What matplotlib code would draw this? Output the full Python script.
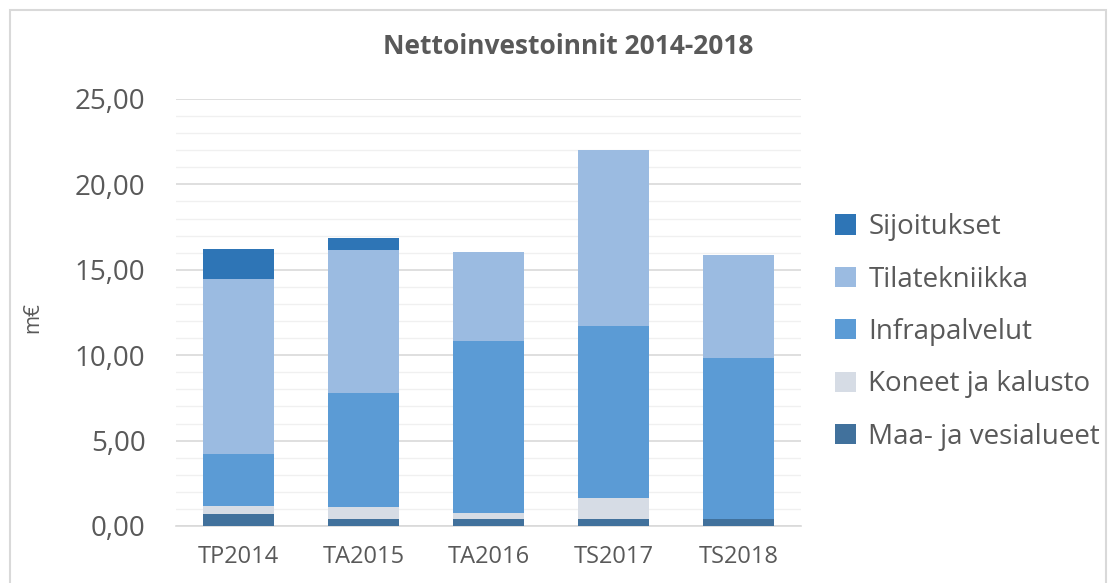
#!/usr/bin/env python3

import matplotlib
matplotlib.use("Agg")
import matplotlib.pyplot as plt
from matplotlib.patches import Rectangle
from matplotlib.ticker import MultipleLocator, FuncFormatter

plt.rcParams["font.family"] = ["Open Sans", "DejaVu Sans"]

categories = ["TP2014", "TA2015", "TA2016", "TS2017", "TS2018"]
maa = [0.73, 0.39, 0.39, 0.39, 0.39]
koneet = [0.44, 0.72, 0.39, 1.25, 0.0]
infra = [3.04, 6.66, 10.03, 10.07, 9.43]
tila = [10.27, 8.41, 5.25, 10.29, 6.03]
sijoitukset = [1.76, 0.66, 0.0, 0.0, 0.0]

series = [
    ("Maa- ja vesialueet", maa, "#41719C"),
    ("Koneet ja kalusto", koneet, "#D6DCE5"),
    ("Infrapalvelut", infra, "#5B9BD5"),
    ("Tilatekniikka", tila, "#9BBBE1"),
    ("Sijoitukset", sijoitukset, "#2E75B6"),
]

text_color = "#595959"

fig = plt.figure(figsize=(11.1, 5.83), dpi=100)
ax = fig.add_axes([176 / 1110, 1 - 526 / 583, 625 / 1110, 427 / 583])

# chart border
fig.patches.append(Rectangle((10 / 1110, -0.05), 1096 / 1110, 1 - 10 / 583 + 0.05,
                             transform=fig.transFigure, fill=False,
                             edgecolor="#D9D9D9", linewidth=1.5))

x = range(len(categories))
bottom = [0.0] * len(categories)
handles = []
for name, vals, color in series:
    bars = ax.bar(x, vals, 0.57, bottom=bottom, color=color, linewidth=0, label=name, zorder=3)
    handles.append(bars)
    bottom = [b + v for b, v in zip(bottom, vals)]

ax.set_xlim(-0.5, len(categories) - 0.5)
ax.set_ylim(0, 25)
ax.yaxis.set_major_locator(MultipleLocator(5))
ax.yaxis.set_minor_locator(MultipleLocator(1))
ax.yaxis.set_major_formatter(FuncFormatter(lambda v, p: f"{v:.2f}".replace(".", ",")))
ax.grid(axis="y", which="major", color="#D9D9D9", linewidth=1.2, zorder=0)
ax.grid(axis="y", which="minor", color="#F0F0F0", linewidth=1.0, zorder=0)

for side in ["left", "right", "top"]:
    ax.spines[side].set_visible(False)
ax.spines["bottom"].set_color("#D9D9D9")
ax.spines["bottom"].set_linewidth(1.2)

ax.set_xticks(list(x))
ax.set_xticklabels(categories)
ax.tick_params(axis="x", length=0, pad=14, labelsize=17, labelcolor=text_color)
ax.tick_params(axis="y", which="both", length=0, pad=22, labelsize=20, labelcolor=text_color)

fig.text(33 / 1110, 1 - 318 / 583, "m€", rotation=90, ha="center", va="center",
         fontsize=15, color=text_color)
fig.text(568 / 1110, 1 - 47 / 583, "Nettoinvestoinnit 2014-2018", ha="center", va="center",
         fontsize=19, fontweight="bold", color=text_color)

leg = fig.legend(handles[::-1], [s[0] for s in series][::-1], loc="center left",
                 bbox_to_anchor=(810 / 1110, 1 - 332 / 583), frameon=False,
                 fontsize=20, labelcolor=text_color, handlelength=0.75,
                 handleheight=0.75, handletextpad=0.45, labelspacing=0.88)

fig.savefig("out.png", dpi=100)
